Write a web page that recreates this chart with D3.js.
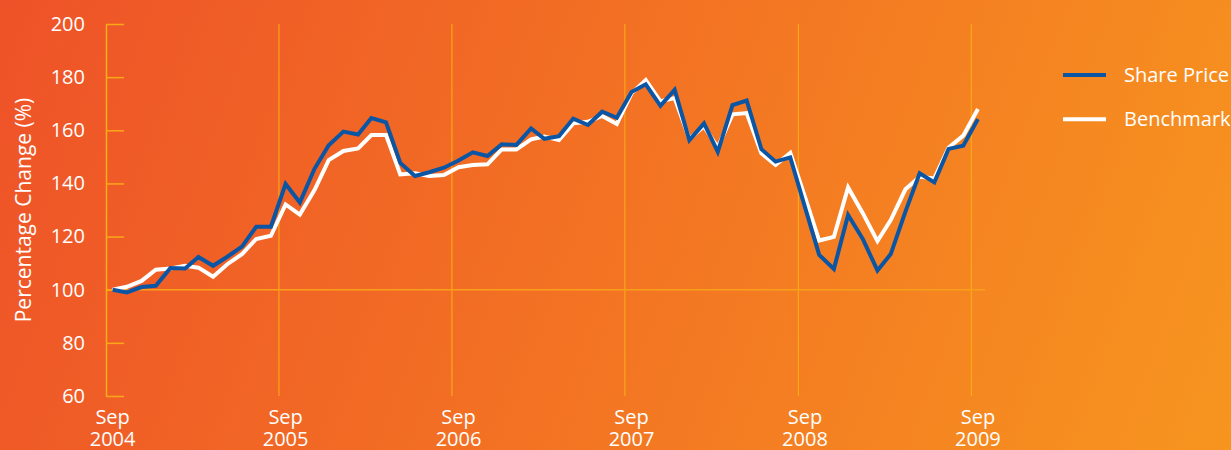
<!DOCTYPE html>
<html>
<head>
<meta charset="utf-8">
<script src="https://cdn.jsdelivr.net/npm/d3@7"></script>
<style>
  html, body { margin: 0; padding: 0; background: #F27023; }
  svg { display: block; }
  text { font-family: "Open Sans", "DejaVu Sans", sans-serif; fill: #ffffff; }
</style>
</head>
<body>
<svg id="chart" width="1231" height="450"></svg>
<script>
// ---- data ----
const startMonth = "2004-09";           // first monthly observation
const seriesNames = ["Share Price", "Benchmark"];
const sharePrice = [
  100, 99, 101, 101.5, 108.2, 108, 112.3, 109, 112.4, 116.2, 123.7, 123.7,
  139.8, 132.8, 145.5, 154.4, 159.5, 158.4, 164.6, 163, 147.7, 142.8, 144.2, 145.9,
  148.6, 151.7, 150.3, 154.7, 154.5, 160.7, 156.8, 157.8, 164.4, 162, 167, 164.7,
  174.4, 177.3, 169.2, 175.2, 156.3, 162.6, 151.9, 169.5, 171.2, 152.9, 148.2, 149.8,
  131.1, 113.1, 107.8, 128.1, 119.1, 107.2, 113.4, 129.4, 143.8, 140.4, 153, 154.2,
  164.2
];
const benchmark = [
  100, 101.1, 103.3, 107.5, 108, 109, 108.3, 104.9, 109.6, 113.4, 119.1, 120.3,
  132.1, 128.3, 137.5, 148.8, 152.2, 153.2, 158.2, 158.2, 143.4, 143.8, 142.8, 143.2,
  146.1, 146.9, 147.2, 152.8, 152.8, 156.6, 157.6, 156.3, 162.6, 163.2, 165.4, 162.4,
  173.9, 178.9, 170.9, 172.1, 156.8, 161.5, 153.5, 166, 166.5, 151.3, 147, 151.5,
  134.9, 118.5, 119.9, 138.5, 128.8, 118.3, 126.2, 137.8, 142.5, 141.9, 153.4, 158,
  168
];
const yTicks = [60, 80, 100, 120, 140, 160, 180, 200];
const xTickMonth = "Sep";
const xTickYears = [2004, 2005, 2006, 2007, 2008, 2009];
const yTitle = "Percentage Change (%)";

// ---- layout ----
const svg = d3.select("#chart");
const W = 1231, H = 450;
const defs = svg.append("defs");
const grad = defs.append("linearGradient")
  .attr("id", "bg").attr("gradientUnits", "userSpaceOnUse")
  .attr("x1", 0).attr("y1", 0).attr("x2", W).attr("y2", H);
grad.append("stop").attr("offset", "0%").attr("stop-color", "#EE5228");
grad.append("stop").attr("offset", "50%").attr("stop-color", "#F37323");
grad.append("stop").attr("offset", "100%").attr("stop-color", "#F7951F");
svg.append("rect").attr("width", W).attr("height", H).attr("fill", "url(#bg)");

const parse = d3.utcParse("%Y-%m");
const t0 = parse(startMonth);
const dates = sharePrice.map((_, i) => {
  const d = d3.utcMonth.offset(t0, i);
  return new Date(Date.UTC(d.getUTCFullYear(), d.getUTCMonth(), 15));
});
const gridDates = xTickYears.map(y => new Date(Date.UTC(y, 8, 1)));

const x = d3.scaleUtc()
  .domain([gridDates[0], gridDates[gridDates.length - 1]])
  .range([106, 971.3]);
const y = d3.scaleLinear().domain([60, 200]).range([396, 24]);

const gold = "#FBB116";
const tickGold = "#F9A81A";

// vertical grid lines (Sep of each year after the first)
svg.append("g").selectAll("line")
  .data(gridDates.slice(1))
  .join("line")
  .attr("x1", d => x(d)).attr("x2", d => x(d))
  .attr("y1", y(200)).attr("y2", y(60))
  .attr("stroke", gold).attr("stroke-width", 1);

// 100 baseline
const endDate = d3.utcMonth.offset(gridDates[gridDates.length - 1], 1);
svg.append("line")
  .attr("x1", x(gridDates[0])).attr("x2", x(endDate))
  .attr("y1", y(100)).attr("y2", y(100))
  .attr("stroke", "#F9A01B").attr("stroke-width", 1.5);

// y axis
const yAxis = d3.axisLeft(y).tickValues(yTicks).tickSizeInner(-18).tickSizeOuter(0).tickPadding(21);
const gy = svg.append("g").attr("transform", `translate(${x(gridDates[0])},0)`).call(yAxis);
gy.select(".domain").attr("stroke", gold).attr("stroke-width", 1.5);
gy.selectAll(".tick line").attr("stroke", tickGold).attr("stroke-width", 1.5);
gy.selectAll(".tick text")
  .attr("fill", "#ffffff").style("font-size", "20px")
  .style("font-family", '"Open Sans", sans-serif');

// x labels
const labelDates = xTickYears.map(yy => new Date(Date.UTC(yy, 8, 15)));
const xl = svg.append("g").selectAll("text").data(labelDates).join("text")
  .attr("text-anchor", "middle").style("font-size", "20px");
xl.append("tspan").attr("x", d => x(d)).attr("y", 423.5).text(xTickMonth);
xl.append("tspan").attr("x", d => x(d)).attr("y", 445.5).text(d => d.getUTCFullYear());

// y title
svg.append("text")
  .attr("transform", `translate(31,${(y(200) + y(60)) / 2}) rotate(-90)`)
  .attr("text-anchor", "middle")
  .style("font-size", "21px")
  .text(yTitle);

// lines
const line = d3.line().x((d, i) => x(dates[i])).y(d => y(d)).curve(d3.curveLinear);
svg.append("path").datum(benchmark)
  .attr("d", line).attr("fill", "none")
  .attr("stroke", "#ffffff").attr("stroke-width", 4).attr("stroke-linejoin", "miter");
svg.append("path").datum(sharePrice)
  .attr("d", line).attr("fill", "none")
  .attr("stroke", "#0B55A5").attr("stroke-width", 4).attr("stroke-linejoin", "miter");

// legend
const legendColors = ["#0B55A5", "#ffffff"];
const lg = svg.append("g").selectAll("g").data(seriesNames).join("g")
  .attr("transform", (d, i) => `translate(0,${75 + i * 44.3})`);
lg.append("line").attr("x1", 1063).attr("x2", 1106).attr("y1", 0).attr("y2", 0)
  .attr("stroke", (d, i) => legendColors[i]).attr("stroke-width", 4);
lg.append("text").attr("x", 1124).attr("y", 7).style("font-size", "20px").text(d => d);
</script>
</body>
</html>
